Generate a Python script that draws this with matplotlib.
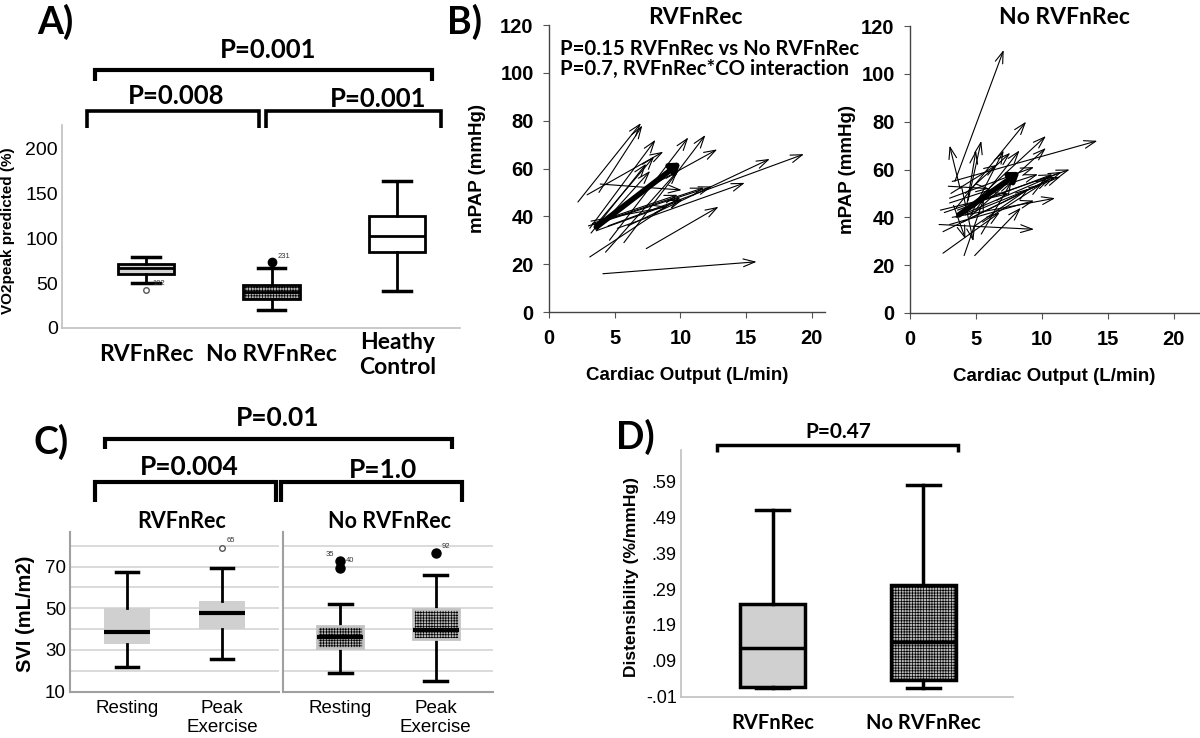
import matplotlib
matplotlib.use("Agg")
import matplotlib.pyplot as plt
from matplotlib.patches import PathPatch

W, H = 1200, 738
BOLD = "Lato"
plt.rcParams["font.family"] = ["Liberation Sans", "DejaVu Sans"]
plt.rcParams["hatch.linewidth"] = 0.5

# ---------------- data ----------------
# A) VO2peak predicted (%)
a_groups = ["RVFnRec", "No RVFnRec", "Heathy\nControl"]
a_whislo = [50, 20, 41]
a_q1 = [60, 32, 84]
a_med = [67, 40, 102]
a_q3 = [71, 48, 124]
a_whishi = [79, 67, 163]
a_fliers = [[42], [73], []]
a_flier_ids = [["102"], ["231"], []]

# B) mPAP vs cardiac output, rest -> peak exercise, one arrow per patient
rv_co_rest = [4.1, 2.2, 3.8, 3.9, 2.9, 3.1, 3.2, 3.6, 4.6, 5.7, 3.1, 4.3, 7.4, 4.5, 6.0, 5.2, 3.4, 3.0, 7.5, 3.3, 3.5, 3.2, 3.6]
rv_pap_rest = [16, 46, 50, 53.5, 49, 35, 33, 34, 30, 29, 23, 25, 26.5, 36, 36, 35, 36.5, 36, 52, 37, 36, 38, 34]
rv_co_peak = [15.8, 7.0, 7.1, 10.1, 8.7, 8.1, 7.4, 7.7, 10.6, 11.9, 10.0, 9.8, 12.9, 19.4, 16.8, 14.9, 12.4, 11.8, 12.8, 9.8, 8.0, 9.0, 10.2]
rv_pap_peak = [21, 79, 78, 51, 67, 72, 62, 59, 73, 74, 48, 59, 44, 66, 64, 54, 52.5, 52, 68, 49, 65, 44, 47]
rv_mean = [3.6, 35.5, 10.0, 62.5]

nr_co_rest = [3.4, 3.8, 4.3, 4.4, 3.5, 4.0, 3.2, 4.5, 5.0, 4.6, 2.6, 3.5, 4.0, 2.5, 3.0, 2.9, 2.2, 2.5, 4.1, 4.9,
              3.2, 3.0, 3.3, 3.9, 2.3, 3.0, 4.2, 3.6, 4.2, 5.5, 4.8, 3.1, 5.4]
nr_pap_rest = [55, 52, 45, 47, 44, 42, 55, 40, 45, 41, 42, 40, 38, 34, 48, 53, 37, 25, 24, 24,
               40, 37, 45, 53, 43, 46, 50, 43, 41, 38, 36, 50, 33]
nr_co_peak = [7.1, 3.0, 5.0, 5.4, 8.8, 10.3, 14.2, 10.3, 8.3, 7.1, 12.1, 11.5, 11.0, 10.6, 9.4, 6.0, 9.4, 6.8, 5.6, 8.4,
              11.0, 9.4, 4.2, 4.8, 7.5, 9.7, 7.6, 10.8, 11.4, 10.0, 9.0, 6.6, 7.7]
nr_pap_peak = [110, 70, 68, 72, 80, 74, 72, 69, 68, 68, 60, 59, 57, 56, 61, 52, 35, 42, 48, 44,
               48, 47, 31, 30, 50, 58, 67, 58, 57, 54, 52, 62, 55]
nr_mean = [3.7, 41, 8.3, 59]

# C) SVI (mL/m2), resting vs peak exercise
c_conditions = ["Resting", "Peak\nExercise"]
c_rv_whislo = [21.8, 25.6]
c_rv_q1 = [33, 40.2]
c_rv_med = [38.4, 47.8]
c_rv_q3 = [50.2, 53.7]
c_rv_whishi = [67.3, 69.3]
c_rv_fliers = [[], [79.1]]
c_rv_ids = [[], ["65"]]
c_nr_whislo = [18.9, 15.2]
c_nr_q1 = [30.7, 35.2]
c_nr_med = [36, 39.7]
c_nr_q3 = [41.3, 49.7]
c_nr_whishi = [52.1, 65.9]
c_nr_fliers = [[72.7, 69.3], [76.7]]
c_nr_ids = [["35", "40"], ["92"]]

# D) Distensibility (%/mmHg)
d_groups = ["RVFnRec", "No RVFnRec"]
d_whislo = [0.013, 0.013]
d_q1 = [0.016, 0.036]
d_med = [0.126, 0.142]
d_q3 = [0.248, 0.301]
d_whishi = [0.511, 0.581]
d_ticks = [-0.01, 0.09, 0.19, 0.29, 0.39, 0.49, 0.59]
d_ticklabels = ["-.01", ".09", ".19", ".29", ".39", ".49", ".59"]

# ---------------- helpers ----------------
fig = plt.figure(figsize=(12, 7.38), dpi=100)


def px_axes(left, top, right, bottom):
    return fig.add_axes([left / W, 1 - bottom / H, (right - left) / W, (bottom - top) / H])


def make_stats(lo, q1, med, q3, hi, fliers):
    return [dict(whislo=a, q1=b, med=c, q3=d, whishi=e, fliers=f)
            for a, b, c, d, e, f in zip(lo, q1, med, q3, hi, fliers)]


def label_fliers(ax, positions, fliers, ids, dx, dy):
    for x, vals, names in zip(positions, fliers, ids):
        for v, n in zip(vals, names):
            ax.text(x + dx, v + dy, n, fontsize=5.5, color="#333", va="center")


# overlay in pixel coordinates for panel letters, brackets and titles
ov = fig.add_axes([0, 0, 1, 1])
ov.set_xlim(0, W)
ov.set_ylim(H, 0)
ov.axis("off")
ov.set_zorder(10)


def bracket(x0, x1, y, drop, lw=3):
    ov.plot([x0, x0, x1, x1], [y + drop, y, y, y + drop], color="k", lw=lw,
            solid_joinstyle="miter", solid_capstyle="butt")


def otext(x, y, s, size, ha="center"):
    ov.text(x, y, s, fontsize=size, family=BOLD, weight="bold", ha=ha, va="center")


# ---------------- A ----------------
axA = px_axes(62, 125, 460, 328)
bA = axA.bxp(make_stats(a_whislo, a_q1, a_med, a_q3, a_whishi, a_fliers), positions=[1, 2, 3],
             widths=0.45, capwidths=0.22, patch_artist=True,
             boxprops=dict(lw=2, edgecolor="k"), medianprops=dict(color="k", lw=2),
             whiskerprops=dict(lw=2), capprops=dict(lw=2.5))
bA["boxes"][0].set_facecolor("#d4d4d4")
bA["boxes"][1].set_facecolor("#b4b4b4")
bA["boxes"][1].set_hatch("++++++")
bA["boxes"][2].set_facecolor("white")
bA["fliers"][0].set(marker="o", mfc="white", mec="#555", ms=4)
bA["fliers"][1].set(marker="o", mfc="k", mec="k", ms=6)
label_fliers(axA, [1, 2, 3], a_fliers, a_flier_ids, 0.05, 7)
axA.set_xlim(0.33, 3.5)
axA.set_ylim(0, 225.6)
axA.set_yticks([0, 50, 100, 150, 200])
axA.set_xticks([1, 2, 3], a_groups)
for lab in axA.get_xticklabels():
    lab.set(family=BOLD, weight="bold", fontsize=16.5, va="center")
axA.tick_params(axis="x", length=0, pad=19.4)
axA.tick_params(axis="y", length=0, pad=3, labelsize=14)
for s in ["top", "right"]:
    axA.spines[s].set_visible(False)
for s in ["left", "bottom"]:
    axA.spines[s].set(color="#c0c0c0", lw=1.2)
axA.set_ylabel("VO2peak predicted (%)", fontsize=11, weight="bold")
axA.yaxis.set_label_coords(-0.136, 0.478)
axA.yaxis.label.set_va("center")

otext(55, 22, "A)", 27)
otext(268, 50, "P=0.001", 18.5)
bracket(95, 432, 70, 11)
otext(176, 96, "P=0.008", 18.5)
bracket(87, 259, 111, 17, lw=2.6)
otext(378, 99, "P=0.001", 18.5)
bracket(266, 441, 111, 17, lw=2.6)

# ---------------- B ----------------
thin = dict(arrowstyle="->,head_length=0.6,head_width=0.2", lw=0.8, color="k",
            shrinkA=0, shrinkB=0, mutation_scale=14)
thick = dict(arrowstyle="-|>,head_length=0.5,head_width=0.35", lw=4, color="k",
             shrinkA=0, shrinkB=0, mutation_scale=10)

axB1 = px_axes(549, 25, 825, 312)
axB2 = px_axes(910, 26, 1199, 313)
panels = [(axB1, rv_co_rest, rv_pap_rest, rv_co_peak, rv_pap_peak, rv_mean, 21, -0.26),
          (axB2, nr_co_rest, nr_pap_rest, nr_co_peak, nr_pap_peak, nr_mean, 21.9, -0.215)]
for ax, c0, p0, c1, p1, mean, xmax, ylab_x in panels:
    for i in range(len(c0)):
        ax.annotate("", xy=(c1[i], p1[i]), xytext=(c0[i], p0[i]), arrowprops=thin)
    ax.annotate("", xy=(mean[2], mean[3]), xytext=(mean[0], mean[1]), arrowprops=thick)
    ax.set_xlim(0, xmax)
    ax.set_ylim(0, 120)
    ax.set_xticks([0, 5, 10, 15, 20])
    ax.set_yticks([0, 20, 40, 60, 80, 100, 120])
    ax.tick_params(direction="out", length=4, color="#555", labelsize=14.5)
    ax.tick_params(axis="y", pad=7)
    ax.tick_params(axis="x", pad=8)
    for lab in ax.get_xticklabels() + ax.get_yticklabels():
        lab.set_weight("bold")
    for s in ["top", "right"]:
        ax.spines[s].set_visible(False)
    for s in ["left", "bottom"]:
        ax.spines[s].set(color="#444", lw=1)
    ax.set_ylabel("mPAP (mmHg)", fontsize=13.5, weight="bold")
    ax.yaxis.set_label_coords(ylab_x, 0.5)
    ax.yaxis.label.set_va("center")
    ax.set_xlabel("Cardiac Output (L/min)", fontsize=13.5, weight="bold")
    ax.xaxis.set_label_coords(0.5, -0.22)
    ax.xaxis.label.set_va("center")

otext(465, 22, "B)", 27)
otext(695, 18, "RVFnRec", 16.5)
otext(1064, 17, "No RVFnRec", 16.5)
otext(560, 49, "P=0.15 RVFnRec vs No RVFnRec", 14.7, ha="left")
otext(560, 69, "P=0.7, RVFnRec*CO interaction", 14.7, ha="left")

# ---------------- C ----------------
axC1 = px_axes(70, 532, 279, 691.5)
axC2 = px_axes(283, 532, 493, 691.5)
common = dict(positions=[1, 2], widths=0.48, capwidths=0.24, patch_artist=True,
              medianprops=dict(color="k", lw=3), whiskerprops=dict(lw=2), capprops=dict(lw=2.5))
bC1 = axC1.bxp(make_stats(c_rv_whislo, c_rv_q1, c_rv_med, c_rv_q3, c_rv_whishi, c_rv_fliers),
               boxprops=dict(facecolor="#d0d0d0", edgecolor="none", lw=0), **common)
bC2 = axC2.bxp(make_stats(c_nr_whislo, c_nr_q1, c_nr_med, c_nr_q3, c_nr_whishi, c_nr_fliers),
               boxprops=dict(facecolor="#b8b8b8", edgecolor="k", lw=0, hatch="++++++"), **common)
for box in bC2["boxes"]:
    axC2.add_patch(PathPatch(box.get_path(), fill=False, ec="#c4c4c4", lw=2, zorder=box.get_zorder()))
for fl in bC1["fliers"]:
    fl.set(marker="o", mfc="white", mec="#555", ms=4)
for fl in bC2["fliers"]:
    fl.set(marker="o", mfc="k", mec="k", ms=6.5)
label_fliers(axC1, [1, 2], c_rv_fliers, c_rv_ids, 0.05, 3.2)
axC2.text(1 - 0.06, c_nr_fliers[0][0] + 3.2, c_nr_ids[0][0], fontsize=5.5, color="#333", ha="right", va="center")
axC2.text(1 + 0.06, c_nr_fliers[0][0], c_nr_ids[0][1], fontsize=5.5, color="#333", va="center")
axC2.text(2 + 0.06, c_nr_fliers[1][0] + 3.1, c_nr_ids[1][0], fontsize=5.5, color="#333", va="center")

for ax in [axC1, axC2]:
    ax.set_xlim(0.4, 2.6)
    ax.set_ylim(10, 86.6)
    ax.set_yticks([10, 30, 50, 70])
    ax.set_yticks([20, 40, 60, 80], minor=True)
    ax.yaxis.grid(True, which="both", color="#d4d4d4", lw=1.2)
    ax.set_axisbelow(True)
    ax.set_xticks([1, 2], c_conditions)
    ax.tick_params(which="both", length=0, labelsize=13.5)
    ax.tick_params(axis="x", pad=6)
    for s in ["top", "right"]:
        ax.spines[s].set_visible(False)
    for s in ["left", "bottom"]:
        ax.spines[s].set(color="#a0a0a0", lw=1.5)
axC1.tick_params(axis="y", pad=3)
axC2.tick_params(axis="y", labelleft=False)
axC1.set_ylabel("SVI (mL/m2)", fontsize=14.5, weight="bold")
axC1.yaxis.set_label_coords(-0.215, 0.49)
axC1.yaxis.label.set_va("center")

otext(51, 442, "C)", 27)
otext(278, 418, "P=0.01", 19)
bracket(105, 452, 439, 10)
otext(189, 467, "P=0.004", 19)
bracket(95, 276, 482, 20)
otext(383, 470, "P=1.0", 19)
bracket(281, 462, 482, 20)
otext(182, 521, "RVFnRec", 15.5)
otext(389, 521, "No RVFnRec", 15.5)

# ---------------- D ----------------
axD = px_axes(681, 450, 1013, 696.5)
bD = axD.bxp(make_stats(d_whislo, d_q1, d_med, d_q3, d_whishi, [[], []]), positions=[1, 2],
             widths=0.43, capwidths=0.22, patch_artist=True,
             boxprops=dict(lw=2.5, edgecolor="k"), medianprops=dict(color="k", lw=2.5),
             whiskerprops=dict(lw=2.5), capprops=dict(lw=2.5))
bD["boxes"][0].set_facecolor("#d0d0d0")
bD["boxes"][1].set_facecolor("#b8b8b8")
bD["boxes"][1].set_hatch("++++++")
axD.set_xlim(0.393, 2.594)
axD.set_ylim(-0.01, 0.679)
axD.set_yticks(d_ticks, d_ticklabels)
axD.set_xticks([1, 2], d_groups)
for lab in axD.get_xticklabels():
    lab.set(family=BOLD, weight="bold", fontsize=14.5, va="center")
axD.tick_params(axis="x", length=0, pad=19)
axD.tick_params(axis="y", length=0, pad=3, labelsize=13)
for s in ["top", "right"]:
    axD.spines[s].set_visible(False)
for s in ["left", "bottom"]:
    axD.spines[s].set(color="#c0c0c0", lw=1.2)
axD.set_ylabel("Distensibility (%/mmHg)", fontsize=12.5, weight="bold")
axD.yaxis.set_label_coords(-0.148, 0.486)
axD.yaxis.label.set_va("center")

otext(635, 437, "D)", 27)
otext(838, 432, "P=0.47", 15)
bracket(717, 958, 445, 7, lw=2.5)

fig.savefig("out.png", dpi=100)
